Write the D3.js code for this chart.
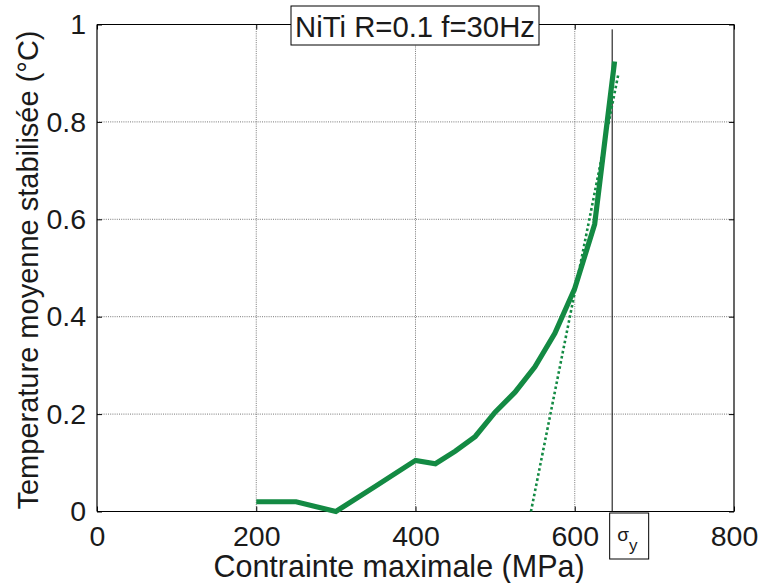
<!DOCTYPE html>
<html>
<head>
<meta charset="utf-8">
<script src="https://cdn.jsdelivr.net/npm/d3@7"></script>
<style>
  html, body { margin: 0; padding: 0; background: #fff; }
  text { font-family: "Liberation Sans", Arial, Helvetica, sans-serif; fill: #1a1a1a; }
</style>
</head>
<body>
<svg id="chart" width="761" height="583"></svg>
<script>
// ---- data ----
const stress = [200, 250, 300, 350, 400, 425, 450, 475, 500, 525, 550, 575, 600, 625, 650];
const temperature = [0.02, 0.02, 0.0, 0.052, 0.105, 0.098, 0.124, 0.154, 0.204, 0.245, 0.297, 0.366, 0.458, 0.59, 0.924];
const tangentStress = [545, 655];
const tangentTemp = [0.0, 0.9];
const sigmaYield = 647;
const xTicks = [0, 200, 400, 600, 800];
const yTicks = [0, 0.2, 0.4, 0.6, 0.8, 1];
const titleText = "NiTi R=0.1 f=30Hz";
const xLabel = "Contrainte maximale (MPa)";
const yLabel = "Temperature moyenne stabilisée (°C)";

// ---- layout ----
const L = 97, R = 734, T = 24.5, B = 511.5;
const green = "#138a43";
const svg = d3.select("#chart");
const x = d3.scaleLinear().domain([0, 800]).range([L, R]);
const y = d3.scaleLinear().domain([0, 1]).range([B, T]);

// grid
const grid = svg.append("g");
grid.selectAll("line.gx").data(xTicks.filter(d => d > 0 && d < 800)).join("line")
  .attr("x1", d => x(d)).attr("x2", d => x(d)).attr("y1", T).attr("y2", B)
  .attr("stroke", "#555").attr("stroke-width", 0.8).attr("stroke-dasharray", "1,1.2");
grid.selectAll("line.gy").data(yTicks.filter(d => d > 0 && d < 1)).join("line")
  .attr("y1", d => y(d)).attr("y2", d => y(d)).attr("x1", L).attr("x2", R)
  .attr("stroke", "#555").attr("stroke-width", 0.8).attr("stroke-dasharray", "1,1.2");

// axes (inward ticks) with d3 axes
const tickLen = 5;
const axB = svg.append("g").attr("transform", `translate(0,${B})`)
  .call(d3.axisBottom(x).tickValues(xTicks).tickSize(-tickLen).tickPadding(14).tickFormat(d3.format("d")));
const axT = svg.append("g").attr("transform", `translate(0,${T})`)
  .call(d3.axisTop(x).tickValues(xTicks).tickSize(-tickLen).tickFormat(""));
const axL = svg.append("g").attr("transform", `translate(${L},0)`)
  .call(d3.axisLeft(y).tickValues(yTicks).tickSize(-tickLen).tickPadding(11).tickFormat(d => d === 0 || d === 1 ? d3.format("d")(d) : d3.format(".1f")(d)));
const axR = svg.append("g").attr("transform", `translate(${R},0)`)
  .call(d3.axisRight(y).tickValues(yTicks).tickSize(-tickLen).tickFormat(""));
[axB, axT, axL, axR].forEach(a => {
  a.select(".domain").attr("stroke", "#000").attr("stroke-width", 1.2);
  a.selectAll(".tick line").attr("stroke", "#000").attr("stroke-width", 1);
  a.selectAll("text").attr("font-size", 28.5).attr("font-family", "Liberation Sans, Arial, sans-serif").attr("fill", "#1a1a1a");
});
axB.selectAll(".domain").attr("d", `M${L},0H${R}`);
axT.selectAll(".domain").attr("d", `M${L},0H${R}`);
axL.selectAll(".domain").attr("d", `M0,${B}V${T}`);
axR.selectAll(".domain").attr("d", `M0,${B}V${T}`);

// sigma_y vertical line
svg.append("line")
  .attr("x1", x(sigmaYield)).attr("x2", x(sigmaYield))
  .attr("y1", y(0.99)).attr("y2", B)
  .attr("stroke", "#000").attr("stroke-width", 1);

// tangent dotted line
const line = d3.line().x(d => x(d[0])).y(d => y(d[1]));
svg.append("path")
  .datum(tangentStress.map((s, i) => [s, tangentTemp[i]]))
  .attr("d", line).attr("fill", "none")
  .attr("stroke", green).attr("stroke-width", 2.6).attr("stroke-dasharray", "2.6,2.6");

// main curve
svg.append("path")
  .datum(stress.map((s, i) => [s, temperature[i]]))
  .attr("d", line).attr("fill", "none")
  .attr("stroke", green).attr("stroke-width", 5.2).attr("stroke-linejoin", "miter");

// title box
const tb = svg.append("g");
tb.append("rect").attr("x", 291).attr("y", 6).attr("width", 248).attr("height", 39)
  .attr("fill", "#fff").attr("stroke", "#000").attr("stroke-width", 1);
tb.append("text").attr("x", 415).attr("y", 37).attr("text-anchor", "middle")
  .attr("font-size", 29.3).text(titleText);

// sigma_y box
const sb = svg.append("g");
sb.append("rect").attr("x", x(sigmaYield) - 2.5).attr("y", 513).attr("width", 39).attr("height", 46)
  .attr("fill", "#fff").attr("stroke", "#000").attr("stroke-width", 1);
const st = sb.append("text").attr("x", x(sigmaYield) + 5).attr("y", 541).attr("font-size", 19);
st.append("tspan").text("σ");
st.append("tspan").attr("dy", 10).attr("font-size", 17).text("y");

// axis labels
svg.append("text").attr("x", 399).attr("y", 577).attr("text-anchor", "middle")
  .attr("font-size", 30.5).text(xLabel);
svg.append("text").attr("transform", "translate(38,270) rotate(-90)").attr("text-anchor", "middle")
  .attr("font-size", 29).text(yLabel);
</script>
</body>
</html>
